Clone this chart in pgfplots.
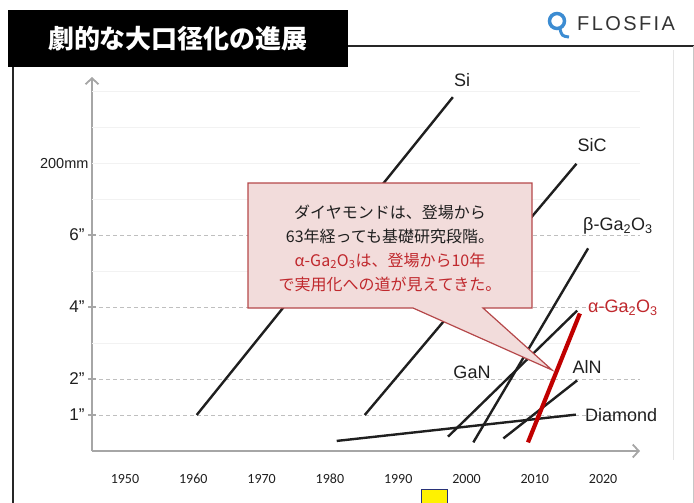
\documentclass[border=0pt]{standalone}
\usepackage{pgfplots}
\pgfplotsset{compat=1.18}
\usetikzlibrary{arrows.meta}
\usepackage{fontspec}
\setmainfont{Liberation Sans}
\newfontfamily\cjk{Noto Sans CJK JP}
\newfontfamily\carlito{Carlito}
\newfontfamily\logofont{Liberation Sans}[LetterSpace=12]
\definecolor{redline}{HTML}{C00000}
\definecolor{calloutfill}{HTML}{F2DCDB}
\definecolor{calloutdraw}{HTML}{B5484A}
\definecolor{axisgray}{HTML}{A6A6A6}
\definecolor{labelred}{HTML}{C0282D}
\definecolor{logoblue}{HTML}{3C8CD2}
\definecolor{textdark}{HTML}{1F1F1F}
\begin{document}
\begin{tikzpicture}
\useasboundingbox (0pt,0pt) rectangle (694pt,-503pt);
\begin{axis}[
  at={(92pt,-451pt)}, anchor=south west,
  scale only axis, width=548pt, height=374pt,
  xmin=1945.17, xmax=2025.4, ymin=0, ymax=10.39,
  enlargelimits=false, clip=false,
  axis lines=left,
  axis line style={draw=axisgray, line width=1.8pt, -{Straight Barb[length=6pt,width=13pt,line width=1.8pt]}},
  xtick={1950,1960,1970,1980,1990,2000,2010,2020},
  xticklabels={1950,1960,1970,1980,1990,2000,2010,2020},
  xtick style={draw=none},
  xticklabel style={font=\carlito\fontsize{14}{14}\selectfont, text=textdark, anchor=center, text height=9pt, text depth=0pt, yshift=-24pt},
  ytick={1,2,4,6},
  yticklabels={1'',2'',4'',6''},
  ytick style={draw=axisgray, line width=1.2pt},
  major tick length=8pt, tick align=center,
  yticklabel style={font=\fontsize{17}{17}\selectfont, text=textdark},
  ymajorgrids,
  major grid style={draw=gray!50, line width=1pt, dash pattern=on 4pt off 3pt},
  extra y ticks={3,5,7,8,9,10},
  extra y tick labels={,,,200mm,,},
  extra y tick style={grid=major, major grid style={solid, draw=gray!10, line width=1pt}, major tick length=0pt, yticklabel style={font=\fontsize{14.5}{14.5}\selectfont}},
]
% Si
\addplot[textdark, line width=2.4pt] coordinates {(1960.5,1.00) (1998.0,9.83)};
% SiC
\addplot[textdark, line width=2.4pt] coordinates {(1985.1,1.00) (2016.1,7.98)};
% GaN
\addplot[textdark, line width=2.4pt] coordinates {(1997.3,0.40) (2016.2,3.90)};
% beta-Ga2O3
\addplot[textdark, line width=2.4pt] coordinates {(2001.0,0.24) (2017.8,5.63)};
% AlN
\addplot[textdark, line width=2.4pt] coordinates {(2005.4,0.35) (2016.2,1.96)};
% Diamond
\addplot[textdark, line width=2.4pt] coordinates {(1981.0,0.28) (2016.0,1.01)};
% alpha-Ga2O3
\addplot[redline, line width=4.2pt] coordinates {(2009.0,0.24) (2016.6,3.82)};
\end{axis}
\begin{scope}[x=1pt,y=-1pt]
  % frame
  \draw[black!85, line width=2pt] (348,46) -- (694,46);
  \draw[black!85, line width=2.2pt] (13,67) -- (13,503);
  \draw[gray!20, line width=1pt] (673,50) -- (673,460);
  \draw[gray!45, line width=1pt] (693,46) -- (693,503);
  % title
  \fill[black] (8,10) rectangle (348,67);
  \node[text=white, font=\cjk\bfseries\fontsize{26}{26}\selectfont] at (178,39) {劇的な大口径化の進展};
  % logo
  \draw[logoblue, line width=3.5pt] (557,21) circle (7.5);
  \draw[logoblue, line width=3pt] (560,29) .. controls (562,36) .. (569,37);
  \node[anchor=west, inner sep=0pt, text=black!80, font=\logofont\fontsize{20}{20}\selectfont] at (577,24) {FLOSFIA};
  % series labels
  \begin{scope}[font=\fontsize{18}{18}\selectfont, text=textdark]
    \node at (462,80) {Si};
    \node at (592,145) {SiC};
    \node[anchor=west, inner sep=0pt] at (583,226) {β-Ga\textsubscript{2}O\textsubscript{3}};
    \node[anchor=west, inner sep=0pt, text=labelred] at (588,308) {α-Ga\textsubscript{2}O\textsubscript{3}};
    \node at (472,372) {GaN};
    \node at (587,367) {AlN};
    \node[anchor=west, inner sep=0pt] at (585,415) {Diamond};
  \end{scope}
  % callout
  \filldraw[fill=calloutfill, draw=calloutdraw, line width=1.2pt, line join=miter]
    (248,183) -- (532,183) -- (532,308) -- (483,308) -- (552,370) -- (413,308) -- (248,308) -- cycle;
  \node[align=center, text=textdark, font=\cjk\fontsize{16}{24}\selectfont] at (390,248)
    {ダイヤモンドは、登場から\\63年経っても基礎研究段階。\\
     \textcolor{labelred}{α-Ga\textsubscript{2}O\textsubscript{3}は、登場から10年}\\
     \textcolor{labelred}{で実用化への道が見えてきた。}};
  % yellow square
  \filldraw[fill=yellow, draw={rgb,255:red,40;green,50;blue,120}, line width=1pt] (421,489) rectangle (447,507);
\end{scope}
\end{tikzpicture}
\end{document}
